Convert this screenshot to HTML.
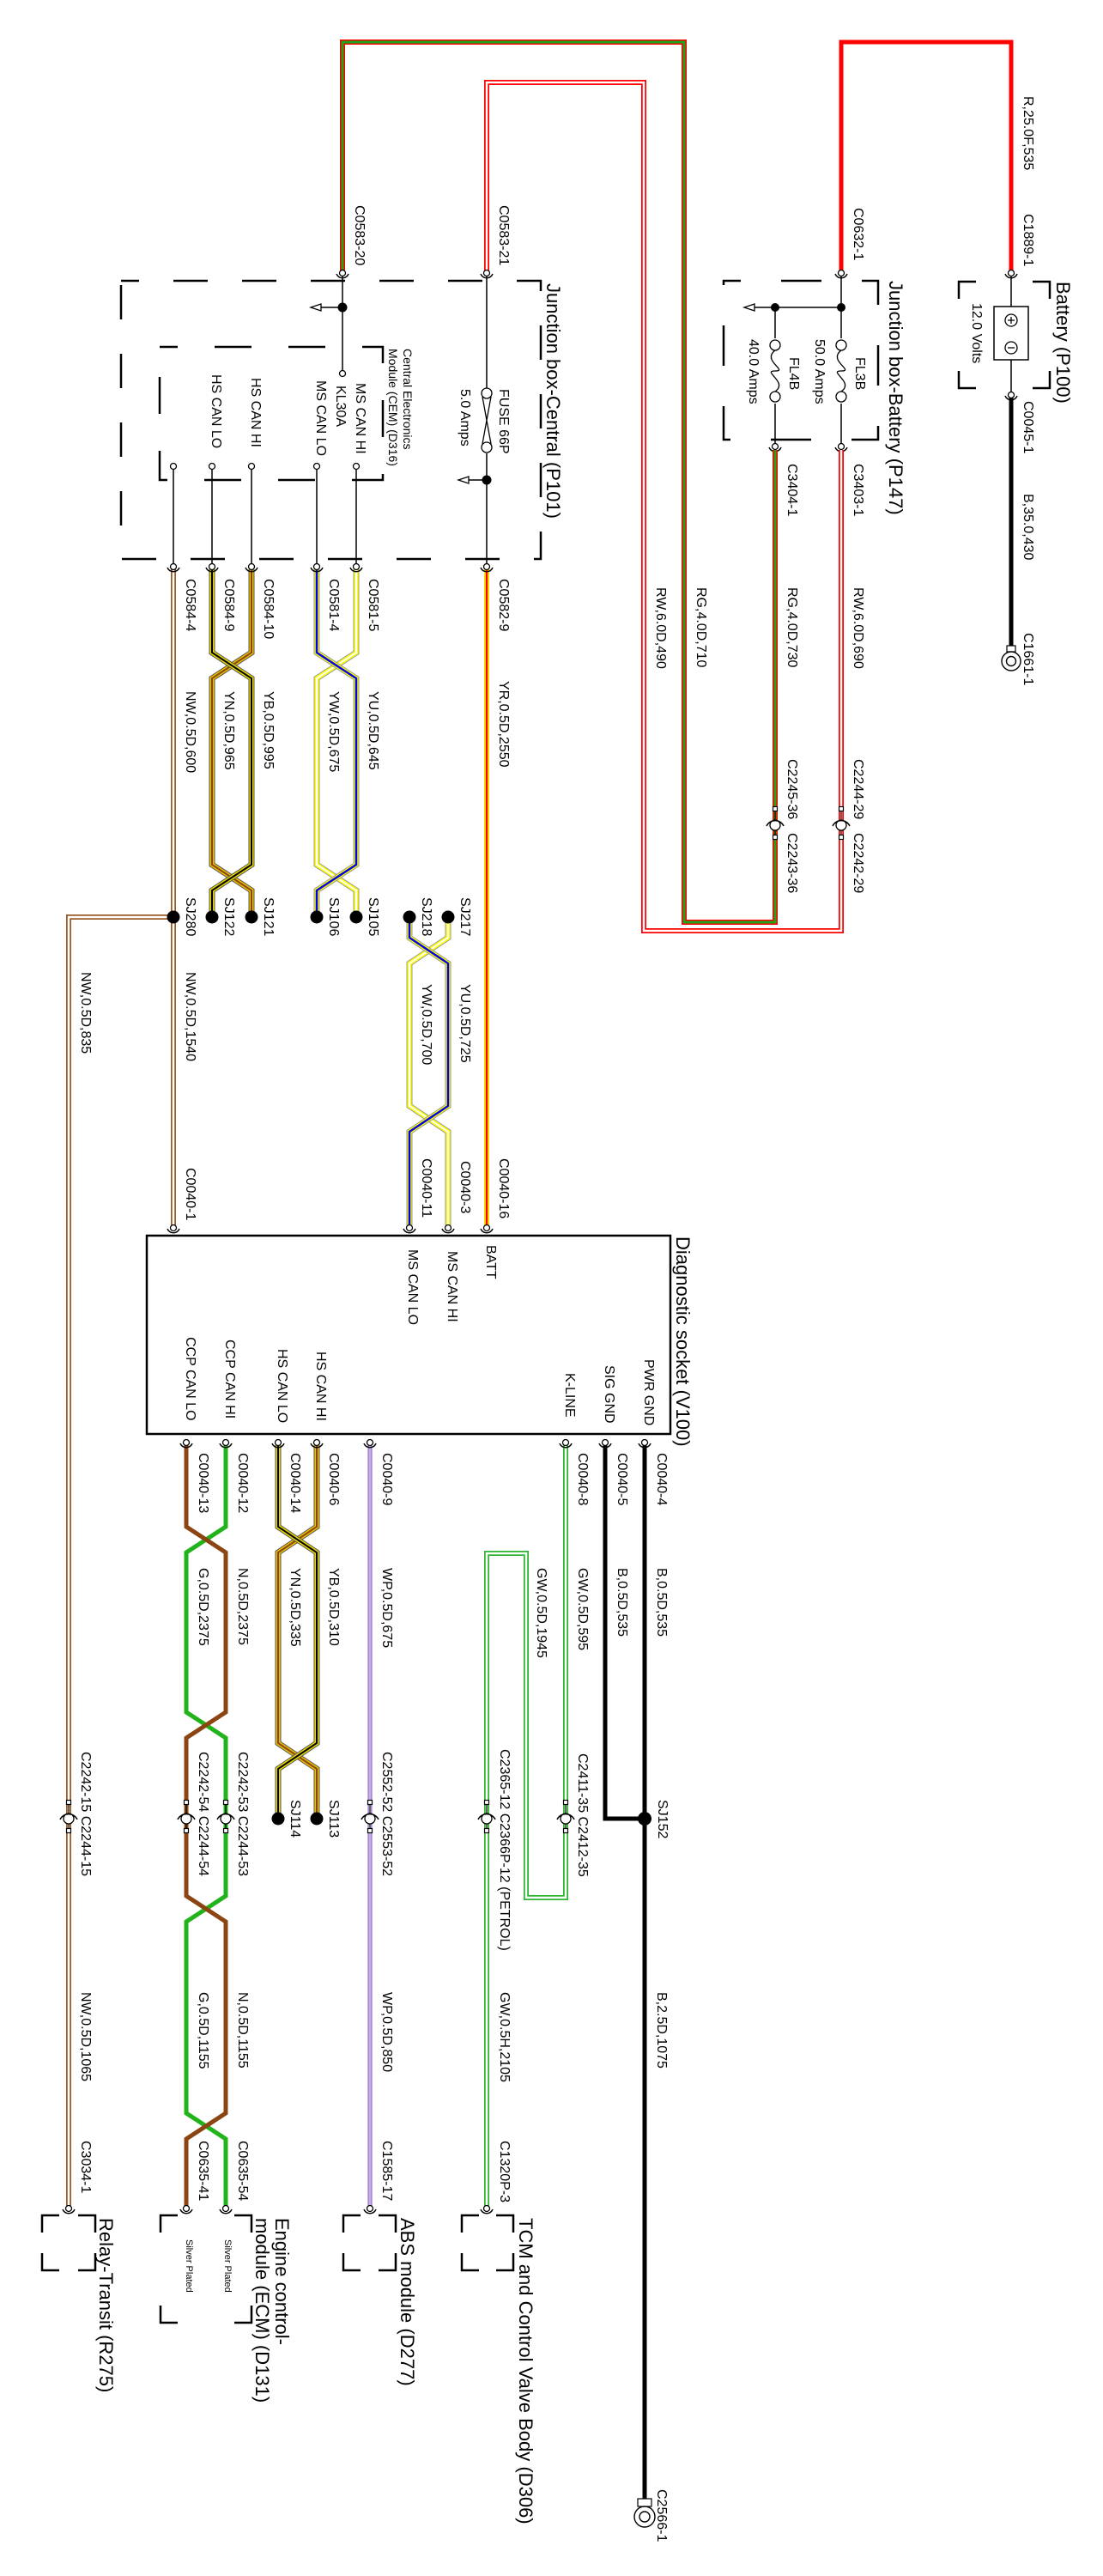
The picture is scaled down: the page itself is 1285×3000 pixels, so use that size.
<!DOCTYPE html>
<html><head><meta charset="utf-8"><style>
html,body{margin:0;padding:0;background:#fff}
svg{display:block}
text{font-family:"Liberation Sans",Arial,sans-serif;font-size:16px;fill:#000}
.t{font-size:22px}
.s{font-size:14px}
.xs{font-size:11px}
.thin{stroke:#000;stroke-width:1.5;fill:none}
.dash{stroke:#000;stroke-width:2.5;fill:none}
</style></head><body>
<svg width="1285" height="3000" viewBox="0 0 1285 3000" xmlns="http://www.w3.org/2000/svg">
<defs>
<g id="ct"><path d="M-7,1 A7.5,7.5 0 0 0 7,1" fill="none" stroke="#000" stroke-width="1.5"/><circle r="3.5" fill="#fff" stroke="#000" stroke-width="1.3"/></g>
<g id="ci"><rect x="-2.5" y="-21.5" width="5" height="5" fill="#fff" stroke="#000" stroke-width="1.2"/><rect x="-2.5" y="11.5" width="5" height="5" fill="#fff" stroke="#000" stroke-width="1.2"/><line x1="0" y1="-16" x2="0" y2="-6" stroke="#000" stroke-width="1.2"/><line x1="0" y1="6" x2="0" y2="11" stroke="#000" stroke-width="1.2"/><circle r="6" fill="#fff" stroke="#000" stroke-width="1.3"/><path d="M-10,1 A11,11 0 0 1 10,1" fill="none" stroke="#000" stroke-width="1.5"/></g>
<g id="arr"><polygon points="0,0 12,-4 12,4" fill="#fff" stroke="#000" stroke-width="1.3"/></g>
</defs>

<!-- ===== Battery ===== -->
<path d="M980,318 V49 H1178 V318" fill="none" stroke="#ff0000" stroke-width="5"/>
<line x1="1178" y1="321" x2="1178" y2="457" class="thin"/>
<rect x="1158" y="357" width="40" height="62" fill="#fff" stroke="#000" stroke-width="1.5"/>
<circle cx="1178" cy="373" r="7" fill="#fff" stroke="#000" stroke-width="1.3"/><path d="M1174,373h8M1178,369v8" stroke="#000" stroke-width="1.3"/>
<circle cx="1178" cy="405" r="7" fill="#fff" stroke="#000" stroke-width="1.3"/><path d="M1174,405h8" stroke="#000" stroke-width="1.3"/>
<path d="M1137,328H1117V348M1117,432V452H1137M1203,328H1223V348M1223,432V452H1203" class="dash"/>
<line x1="1178" y1="463" x2="1178" y2="755" stroke="#000" stroke-width="5"/>
<rect x="1173" y="752" width="10" height="7" fill="#fff" stroke="#000" stroke-width="1.2"/>
<circle cx="1178" cy="770" r="11" fill="#fff" stroke="#000" stroke-width="1.4"/><circle cx="1178" cy="770" r="5.5" fill="#fff" stroke="#000" stroke-width="1.4"/>
<use href="#ct" x="1178" y="318"/><use href="#ct" x="1178" y="460"/>

<!-- ===== Junction box Battery ===== -->
<path d="M843,327H1023V512H843Z" class="dash" stroke-dasharray="47 47" stroke-dashoffset="27"/>
<line x1="980" y1="321" x2="980" y2="517" class="thin"/>
<line x1="903" y1="358" x2="903" y2="517" class="thin"/>
<line x1="879" y1="358" x2="980" y2="358" class="thin"/>
<use href="#arr" x="867" y="358"/>
<circle cx="980" cy="358" r="5" fill="#000"/><circle cx="903" cy="358" r="5" fill="#000"/>
<g fill="#fff" stroke="#000" stroke-width="1.3">
<rect x="970" y="394" width="20" height="76" stroke="none"/>
<circle cx="980" cy="402" r="6"/><path d="M980,408 C964,420 996,432 980,432 C964,432 996,445 980,456" fill="none"/><circle cx="980" cy="462" r="6"/>
<rect x="893" y="394" width="20" height="76" stroke="none"/>
<circle cx="903" cy="402" r="6"/><path d="M903,408 C887,420 919,432 903,432 C887,432 919,445 903,456" fill="none"/><circle cx="903" cy="462" r="6"/>
</g>
<use href="#ct" x="980" y="318"/><use href="#ct" x="980" y="520"/><use href="#ct" x="903" y="520"/>

<path d="M980,524 V1084 H750 V96 H567 V318" fill="none" stroke="#ff0000" stroke-width="6"/>
<path d="M980,524 V1084 H750 V96 H567 V318" fill="none" stroke="#fff" stroke-width="2.5"/>
<path d="M903,524 V1074 H797 V49 H399 V318" fill="none" stroke="#ff0000" stroke-width="6"/>
<path d="M903,524 V1074 H797 V49 H399 V318" fill="none" stroke="#1aa51a" stroke-width="3"/>
<use href="#ci" x="980" y="961"/><use href="#ci" x="903" y="961"/>

<!-- ===== Junction box Central ===== -->
<path d="M141,327H630V651H141Z" class="dash" stroke-dasharray="40 40" stroke-dashoffset="19"/>
<path d="M186,404H446V559H186Z" class="dash" stroke-dasharray="43 43" stroke-dashoffset="22"/>
<line x1="399" y1="321" x2="399" y2="432" class="thin"/>
<circle cx="399" cy="435" r="3.5" fill="#fff" stroke="#000" stroke-width="1.3"/>
<line x1="374" y1="358" x2="399" y2="358" class="thin"/><use href="#arr" x="362" y="358"/>
<circle cx="399" cy="358" r="5.5" fill="#000"/>
<line x1="567" y1="321" x2="567" y2="657" class="thin"/>
<rect x="560" y="452" width="14" height="76" fill="#fff"/>
<g fill="#fff" stroke="#000" stroke-width="1.3"><circle cx="567" cy="458" r="6"/><circle cx="567" cy="521" r="6"/><path d="M562,462 L572,517 M572,462 L562,517" fill="none"/></g>
<line x1="545" y1="559" x2="567" y2="559" class="thin"/><use href="#arr" x="534" y="559"/>
<circle cx="567" cy="559" r="5.5" fill="#000"/>
<g class="thin"><line x1="202" y1="546" x2="202" y2="657"/><line x1="247" y1="546" x2="247" y2="657"/><line x1="293" y1="546" x2="293" y2="657"/><line x1="369" y1="546" x2="369" y2="657"/><line x1="415" y1="546" x2="415" y2="657"/></g>
<g fill="#fff" stroke="#000" stroke-width="1.3"><circle cx="202" cy="543" r="3.5"/><circle cx="247" cy="543" r="3.5"/><circle cx="293" cy="543" r="3.5"/><circle cx="369" cy="543" r="3.5"/><circle cx="415" cy="543" r="3.5"/></g>
<use href="#ct" x="399" y="318"/><use href="#ct" x="567" y="318"/>

<line x1="567" y1="663" x2="567" y2="1427" stroke="#ffd400" stroke-width="6"/>
<line x1="567" y1="663" x2="567" y2="1427" stroke="#ff0000" stroke-width="2"/>
<path d="M202,663 V1427 M202,1068 H80 V2569" fill="none" stroke="#9a5a24" stroke-width="6"/>
<path d="M202,663 V1427 M202,1068 H80 V2569" fill="none" stroke="#fff" stroke-width="2.5"/>
<g fill="none">
<path d="M293,663 V760 L247,790 V1007 L293,1037 V1068" stroke="#555" stroke-width="7"/>
<path d="M293,663 V760 L247,790 V1007 L293,1037 V1068" stroke="#e8c000" stroke-width="5"/>
<path d="M293,663 V760 L247,790 V1007 L293,1037 V1068" stroke="#8b4513" stroke-width="2"/>
<path d="M247,663 V760 L293,790 V1007 L247,1037 V1068" stroke="#555" stroke-width="7"/>
<path d="M247,663 V760 L293,790 V1007 L247,1037 V1068" stroke="#e8d800" stroke-width="5"/>
<path d="M247,663 V760 L293,790 V1007 L247,1037 V1068" stroke="#000" stroke-width="2"/>
<path d="M415,663 V760 L369,790 V1007 L415,1037 V1068" stroke="#999" stroke-width="7"/>
<path d="M415,663 V760 L369,790 V1007 L415,1037 V1068" stroke="#ffff00" stroke-width="5"/>
<path d="M415,663 V760 L369,790 V1007 L415,1037 V1068" stroke="#fff" stroke-width="2"/>
<path d="M369,663 V760 L415,790 V1007 L369,1037 V1068" stroke="#999" stroke-width="7"/>
<path d="M369,663 V760 L415,790 V1007 L369,1037 V1068" stroke="#ffff00" stroke-width="5"/>
<path d="M369,663 V760 L415,790 V1007 L369,1037 V1068" stroke="#0000ee" stroke-width="2.5"/>
<path d="M522,1068 V1092 L477,1122 V1288 L522,1318 V1427" stroke="#999" stroke-width="7"/>
<path d="M522,1068 V1092 L477,1122 V1288 L522,1318 V1427" stroke="#ffff00" stroke-width="5"/>
<path d="M522,1068 V1092 L477,1122 V1288 L522,1318 V1427" stroke="#fff" stroke-width="2"/>
<path d="M477,1068 V1092 L522,1122 V1288 L477,1318 V1427" stroke="#999" stroke-width="7"/>
<path d="M477,1068 V1092 L522,1122 V1288 L477,1318 V1427" stroke="#ffff00" stroke-width="5"/>
<path d="M477,1068 V1092 L522,1122 V1288 L477,1318 V1427" stroke="#0000ee" stroke-width="2.5"/>
</g>
<g fill="#000"><circle cx="202" cy="1068" r="7.5"/><circle cx="247" cy="1068" r="7.5"/><circle cx="293" cy="1068" r="7.5"/><circle cx="369" cy="1068" r="7.5"/><circle cx="415" cy="1068" r="7.5"/><circle cx="477" cy="1068" r="7.5"/><circle cx="522" cy="1068" r="7.5"/></g>
<use href="#ct" x="202" y="660"/><use href="#ct" x="247" y="660"/><use href="#ct" x="293" y="660"/><use href="#ct" x="369" y="660"/><use href="#ct" x="415" y="660"/><use href="#ct" x="567" y="660"/>
<use href="#ct" x="202" y="1430"/><use href="#ct" x="477" y="1430"/><use href="#ct" x="522" y="1430"/><use href="#ct" x="567" y="1430"/>

<!-- ===== Diagnostic socket ===== -->
<rect x="171" y="1439" width="610" height="231" fill="none" stroke="#000" stroke-width="2.5"/>

<path d="M751,1683 V2912" stroke="#000" stroke-width="5" fill="none"/>
<path d="M705,1683 V2118 H751" stroke="#000" stroke-width="5" fill="none"/>
<circle cx="751" cy="2118" r="8" fill="#000"/>
<rect x="743" y="2910" width="16" height="9" fill="#fff" stroke="#000" stroke-width="1.2"/>
<circle cx="751" cy="2931" r="12" fill="#fff" stroke="#000" stroke-width="1.4"/><circle cx="751" cy="2931" r="6" fill="#fff" stroke="#000" stroke-width="1.4"/>
<path d="M659,1683 V2210 H613 V1809 H567 V2569" fill="none" stroke="#2fb52f" stroke-width="6"/>
<path d="M659,1683 V2210 H613 V1809 H567 V2569" fill="none" stroke="#fff" stroke-width="2.5"/>
<line x1="431" y1="1683" x2="431" y2="2569" stroke="#8a60c8" stroke-width="5"/>
<line x1="431" y1="1683" x2="431" y2="2569" stroke="#fff" stroke-width="2.5"/>
<line x1="431" y1="1683" x2="431" y2="2569" stroke="#8a60c8" stroke-width="1"/>
<g fill="none">
<path d="M369,1683 V1778 L324,1808 V2030 L369,2060 V2118" stroke="#555" stroke-width="7"/>
<path d="M369,1683 V1778 L324,1808 V2030 L369,2060 V2118" stroke="#e8c000" stroke-width="5"/>
<path d="M369,1683 V1778 L324,1808 V2030 L369,2060 V2118" stroke="#8b4513" stroke-width="2"/>
<path d="M324,1683 V1778 L369,1808 V2030 L324,2060 V2118" stroke="#555" stroke-width="7"/>
<path d="M324,1683 V1778 L369,1808 V2030 L324,2060 V2118" stroke="#e8d800" stroke-width="5"/>
<path d="M324,1683 V1778 L369,1808 V2030 L324,2060 V2118" stroke="#000" stroke-width="2"/>
<path d="M263,1683 V1778 L217,1808 V1994 L263,2024 V2208 L217,2238 V2461 L263,2491 V2569" stroke="#22b21a" stroke-width="5"/>
<path d="M217,1683 V1778 L263,1808 V1994 L217,2024 V2208 L263,2238 V2461 L217,2491 V2569" stroke="#8b4513" stroke-width="5"/>
</g>
<circle cx="324" cy="2118" r="7.5" fill="#000"/><circle cx="369" cy="2118" r="7.5" fill="#000"/>
<use href="#ct" x="217" y="1680"/><use href="#ct" x="263" y="1680"/><use href="#ct" x="324" y="1680"/><use href="#ct" x="369" y="1680"/><use href="#ct" x="431" y="1680"/><use href="#ct" x="659" y="1680"/><use href="#ct" x="705" y="1680"/><use href="#ct" x="751" y="1680"/>
<use href="#ci" x="80" y="2118"/><use href="#ci" x="217" y="2118"/><use href="#ci" x="263" y="2118"/><use href="#ci" x="431" y="2118"/><use href="#ci" x="567" y="2118"/><use href="#ci" x="659" y="2118"/>
<use href="#ct" x="80" y="2572"/><use href="#ct" x="217" y="2572"/><use href="#ct" x="263" y="2572"/><use href="#ct" x="431" y="2572"/><use href="#ct" x="567" y="2572"/>

<g class="dash">
<path d="M69,2580H49V2600M49,2624V2644H69M91,2580H111V2600M111,2624V2644H91"/>
<path d="M207,2580H187V2600M187,2685V2705H207M273,2580H293V2600M293,2685V2705H273"/>
<path d="M420,2580H400V2600M400,2624V2644H420M441,2580H461V2600M461,2624V2644H441"/>
<path d="M558,2580H538V2600M538,2624V2644H558M578,2580H598V2600M598,2624V2644H578"/>
</g>

<!-- ===== TEXT ===== -->
<g>
<text class="t" transform="translate(1231,328) rotate(90)">Battery (P100)</text>
<text transform="translate(1133,353) rotate(90)">12.0 Volts</text>
<text transform="translate(1193,112) rotate(90)">R,25.0F,535</text>
<text transform="translate(1193,249) rotate(90)">C1889-1</text>
<text transform="translate(1193,467) rotate(90)">C0045-1</text>
<text transform="translate(1193,575) rotate(90)">B,35.0,430</text>
<text transform="translate(1193,737) rotate(90)">C1661-1</text>

<text class="t" transform="translate(1036,327) rotate(90)">Junction box-Battery (P147)</text>
<text transform="translate(995,242) rotate(90)">C0632-1</text>
<text transform="translate(997,416) rotate(90)">FL3B</text>
<text transform="translate(950,395) rotate(90)">50.0 Amps</text>
<text transform="translate(920,416) rotate(90)">FL4B</text>
<text transform="translate(873,395) rotate(90)">40.0 Amps</text>
<text transform="translate(995,540) rotate(90)">C3403-1</text>
<text transform="translate(918,540) rotate(90)">C3404-1</text>
<text transform="translate(995,684) rotate(90)">RW,6.0D,690</text>
<text transform="translate(918,684) rotate(90)">RG,4.0D,730</text>
<text transform="translate(812,684) rotate(90)">RG,4.0D,710</text>
<text transform="translate(765,684) rotate(90)">RW,6.0D,490</text>
<text transform="translate(995,884) rotate(90)">C2244-29</text>
<text transform="translate(995,970) rotate(90)">C2242-29</text>
<text transform="translate(918,884) rotate(90)">C2245-36</text>
<text transform="translate(918,970) rotate(90)">C2243-36</text>

<text transform="translate(582,239) rotate(90)">C0583-21</text>
<text transform="translate(414,239) rotate(90)">C0583-20</text>
<text class="t" transform="translate(637,330) rotate(90)">Junction box-Central (P101)</text>
<text class="s" transform="translate(470,406) rotate(90)">Central Electronics</text>
<text class="s" transform="translate(453,406) rotate(90)">Module (CEM) (D316)</text>
<text transform="translate(415,446) rotate(90)">MS CAN HI</text>
<text transform="translate(392,449) rotate(90)">KL30A</text>
<text transform="translate(369,443) rotate(90)">MS CAN LO</text>
<text transform="translate(293,440) rotate(90)">HS CAN HI</text>
<text transform="translate(247,436) rotate(90)">HS CAN LO</text>
<text transform="translate(582,453) rotate(90)">FUSE 66P</text>
<text transform="translate(537,453) rotate(90)">5.0 Amps</text>

<text transform="translate(582,674) rotate(90)">C0582-9</text>
<text transform="translate(430,674) rotate(90)">C0581-5</text>
<text transform="translate(384,674) rotate(90)">C0581-4</text>
<text transform="translate(308,674) rotate(90)">C0584-10</text>
<text transform="translate(262,674) rotate(90)">C0584-9</text>
<text transform="translate(217,674) rotate(90)">C0584-4</text>
<text transform="translate(582,793) rotate(90)">YR,0.5D,2550</text>
<text transform="translate(430,805) rotate(90)">YU,0.5D,645</text>
<text transform="translate(384,805) rotate(90)">YW,0.5D,675</text>
<text transform="translate(308,805) rotate(90)">YB,0.5D,995</text>
<text transform="translate(262,805) rotate(90)">YN,0.5D,965</text>
<text transform="translate(217,805) rotate(90)">NW,0.5D,600</text>
<text transform="translate(430,1045) rotate(90)">SJ105</text>
<text transform="translate(384,1045) rotate(90)">SJ106</text>
<text transform="translate(308,1045) rotate(90)">SJ121</text>
<text transform="translate(262,1045) rotate(90)">SJ122</text>
<text transform="translate(217,1045) rotate(90)">SJ280</text>
<text transform="translate(537,1045) rotate(90)">SJ217</text>
<text transform="translate(492,1045) rotate(90)">SJ218</text>
<text transform="translate(95,1132) rotate(90)">NW,0.5D,835</text>
<text transform="translate(217,1132) rotate(90)">NW,0.5D,1540</text>
<text transform="translate(537,1146) rotate(90)">YU,0.5D,725</text>
<text transform="translate(492,1146) rotate(90)">YW,0.5D,700</text>
<text transform="translate(582,1349) rotate(90)">C0040-16</text>
<text transform="translate(537,1352) rotate(90)">C0040-3</text>
<text transform="translate(492,1349) rotate(90)">C0040-11</text>
<text transform="translate(217,1360) rotate(90)">C0040-1</text>

<text class="t" transform="translate(788,1440) rotate(90)">Diagnostic socket (V100)</text>
<text transform="translate(567,1450) rotate(90)">BATT</text>
<text transform="translate(522,1457) rotate(90)">MS CAN HI</text>
<text transform="translate(476,1455) rotate(90)">MS CAN LO</text>
<text transform="translate(751,1583) rotate(90)">PWR GND</text>
<text transform="translate(705,1590) rotate(90)">SIG GND</text>
<text transform="translate(659,1599) rotate(90)">K-LINE</text>
<text transform="translate(369,1574) rotate(90)">HS CAN HI</text>
<text transform="translate(324,1571) rotate(90)">HS CAN LO</text>
<text transform="translate(263,1560) rotate(90)">CCP CAN HI</text>
<text transform="translate(217,1557) rotate(90)">CCP CAN LO</text>

<text transform="translate(766,1692) rotate(90)">C0040-4</text>
<text transform="translate(720,1692) rotate(90)">C0040-5</text>
<text transform="translate(674,1692) rotate(90)">C0040-8</text>
<text transform="translate(446,1692) rotate(90)">C0040-9</text>
<text transform="translate(384,1692) rotate(90)">C0040-6</text>
<text transform="translate(339,1692) rotate(90)">C0040-14</text>
<text transform="translate(278,1692) rotate(90)">C0040-12</text>
<text transform="translate(232,1692) rotate(90)">C0040-13</text>
<text transform="translate(766,1826) rotate(90)">B,0.5D,535</text>
<text transform="translate(720,1826) rotate(90)">B,0.5D,535</text>
<text transform="translate(674,1826) rotate(90)">GW,0.5D,595</text>
<text transform="translate(626,1826) rotate(90)">GW,0.5D,1945</text>
<text transform="translate(446,1826) rotate(90)">WP,0.5D,675</text>
<text transform="translate(384,1826) rotate(90)">YB,0.5D,310</text>
<text transform="translate(339,1826) rotate(90)">YN,0.5D,335</text>
<text transform="translate(278,1826) rotate(90)">N,0.5D,2375</text>
<text transform="translate(232,1826) rotate(90)">G,0.5D,2375</text>

<text transform="translate(95,2040) rotate(90)">C2242-15 C2244-15</text>
<text transform="translate(232,2040) rotate(90)">C2242-54 C2244-54</text>
<text transform="translate(278,2040) rotate(90)">C2242-53 C2244-53</text>
<text transform="translate(339,2096) rotate(90)">SJ114</text>
<text transform="translate(384,2096) rotate(90)">SJ113</text>
<text transform="translate(446,2040) rotate(90)">C2552-52 C2553-52</text>
<text transform="translate(583,2037) rotate(90)">C2365-12  C2366P-12 (PETROL)</text>
<text transform="translate(674,2042) rotate(90)">C2411-35 C2412-35</text>
<text transform="translate(767,2096) rotate(90)">SJ152</text>

<text transform="translate(95,2320) rotate(90)">NW,0.5D,1065</text>
<text transform="translate(278,2320) rotate(90)">N,0.5D,1155</text>
<text transform="translate(232,2320) rotate(90)">G,0.5D,1155</text>
<text transform="translate(446,2320) rotate(90)">WP,0.5D,850</text>
<text transform="translate(583,2320) rotate(90)">GW,0.5H,2105</text>
<text transform="translate(766,2320) rotate(90)">B,2.5D,1075</text>

<text transform="translate(95,2493) rotate(90)">C3034-1</text>
<text transform="translate(232,2493) rotate(90)">C0635-41</text>
<text transform="translate(278,2493) rotate(90)">C0635-54</text>
<text transform="translate(446,2493) rotate(90)">C1585-17</text>
<text transform="translate(583,2493) rotate(90)">C1320P-3</text>
<text transform="translate(766,2899) rotate(90)">C2566-1</text>

<text class="t" transform="translate(116,2583) rotate(90)">Relay-Transit (R275)</text>
<text class="t" transform="translate(321,2583) rotate(90)">Engine control-</text>
<text class="t" transform="translate(298,2583) rotate(90)">module (ECM) (D131)</text>
<text class="xs" transform="translate(262,2608) rotate(90)">Silver Plated</text>
<text class="xs" transform="translate(217,2608) rotate(90)">Silver Plated</text>
<text class="t" transform="translate(467,2583) rotate(90)">ABS module (D277)</text>
<text class="t" transform="translate(605,2583) rotate(90)">TCM and Control Valve Body (D306)</text>
</g>
</svg>
</body></html>
